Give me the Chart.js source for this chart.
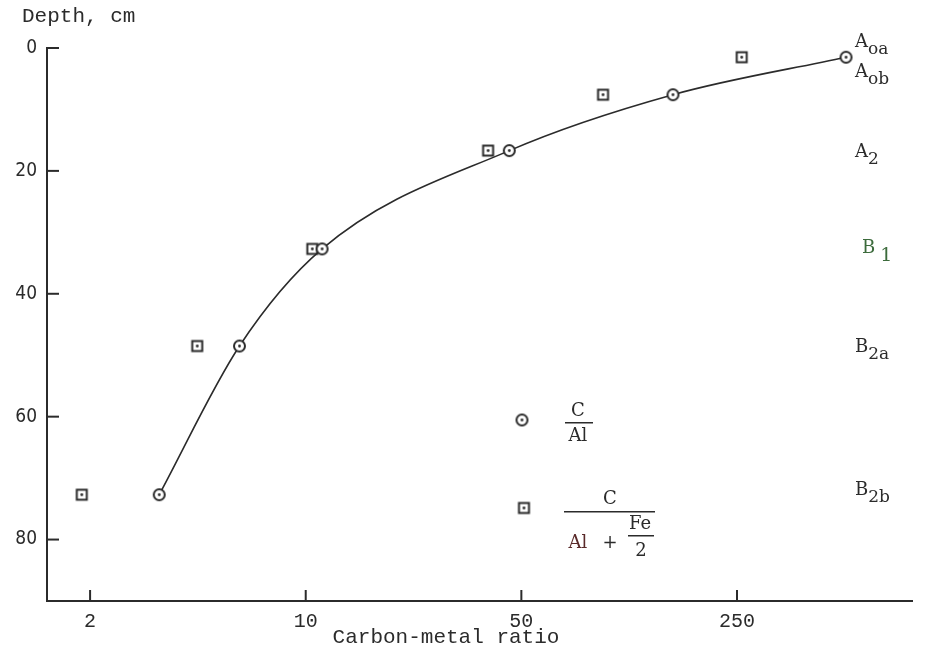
<!DOCTYPE html>
<html>
<head>
<meta charset="utf-8">
<script src="https://cdn.jsdelivr.net/npm/chart.js@4"></script>
<style>
    html, body { margin: 0; padding: 0; background: #fff; }
</style>
</head>
<body>
<canvas id="razaoChart" width="925" height="655"></canvas>
<script>
// Soil horizons, top to bottom, and their depth (cm)
const horizons = ['oa', 'ob', '2', '1', '2a', '2b'];
const horizonLetters = ['A', 'A', 'A', 'B', 'B', 'B'];
const depth = [1.5, 7.6, 16.7, 32.7, 48.5, 72.7];

// Carbon-metal ratios
const ratioCAl = [564, 155, 45.7, 11.3, 6.1, 3.35];     // C / Al (circles)
const ratioCAlFe = [259, 92, 39, 10.5, 4.45, 1.88];     // C / (Al + Fe/2) (squares)

const xTicks = [2, 10, 50, 250];
const yTicks = [0, 20, 40, 60, 80];

const ink = '#2b2b2b';

// little marker images: circle / square with a dot in the middle
function makeMarker(shape) {
    const c = document.createElement('canvas');
    c.width = 15;
    c.height = 15;
    const g = c.getContext('2d');
    g.lineWidth = 2;
    g.strokeStyle = ink;
    g.fillStyle = '#fff';
    g.beginPath();
    if (shape === 'circle') {
        g.arc(7.5, 7.5, 5.5, 0, Math.PI * 2);
    } else {
        g.rect(2.5, 2.5, 10, 10);
    }
    g.fill();
    g.stroke();
    g.fillStyle = ink;
    g.beginPath();
    g.arc(7.5, 7.5, 1.4, 0, Math.PI * 2);
    g.fill();
    return c;
}
const circleMarker = makeMarker('circle');
const squareMarker = makeMarker('square');

const serif = "'DejaVu Serif', serif";

// draws inward ticks, axis captions, horizon names and the fraction legend
const extras = {
    id: 'extras',
    afterDraw(chart) {
        const { ctx, scales: { x, y }, chartArea: a } = chart;
        ctx.save();
        ctx.strokeStyle = ink;
        ctx.lineWidth = 2;
        yTicks.forEach(v => {
            const py = y.getPixelForValue(v);
            ctx.beginPath();
            ctx.moveTo(a.left, py);
            ctx.lineTo(a.left + 12, py);
            ctx.stroke();
        });
        xTicks.forEach(v => {
            const px = x.getPixelForValue(v);
            ctx.beginPath();
            ctx.moveTo(px, a.bottom);
            ctx.lineTo(px, a.bottom - 11);
            ctx.stroke();
        });

        // axis captions
        ctx.fillStyle = ink;
        ctx.font = "21px 'Liberation Mono', monospace";
        ctx.textBaseline = 'middle';
        ctx.textAlign = 'left';
        ctx.fillText('Depth, cm', 22, 16);
        ctx.textAlign = 'center';
        ctx.fillText('Carbon-metal ratio', 446, 637);

        // horizon names on the right
        const labelY = [42, 72, 152, 248, 347, 490];
        ctx.textAlign = 'left';
        horizons.forEach((sub, i) => {
            const isB1 = sub === '1';
            ctx.fillStyle = isB1 ? '#3c6b3c' : ink;
            const lx = isB1 ? 862 : 855;
            ctx.font = '18px ' + serif;
            ctx.fillText(horizonLetters[i], lx, labelY[i]);
            const w = ctx.measureText(horizonLetters[i]).width;
            ctx.font = (isB1 ? '19px ' : '17px ') + serif;
            ctx.fillText(sub, lx + w + (isB1 ? 5 : 0), labelY[i] + 8);
        });

        // legend: markers + fractions
        ctx.drawImage(circleMarker, 522 - 7.5, 420 - 7.5);
        ctx.drawImage(squareMarker, 524 - 7.5, 508 - 7.5);
        ctx.fillStyle = ink;
        ctx.textAlign = 'center';
        ctx.font = '18px ' + serif;
        ctx.fillText('C', 578, 411);
        ctx.fillText('Al', 578, 436);
        ctx.fillRect(565, 422, 28, 1.5);

        ctx.fillText('C', 610, 499);
        ctx.fillRect(564, 511, 91, 1.5);
        ctx.fillStyle = '#5a2a2a';
        ctx.fillText('Al', 578, 543);
        ctx.fillStyle = ink;
        ctx.fillText('+', 610, 543);
        ctx.fillText('Fe', 640, 524);
        ctx.fillRect(628, 535, 26, 1.5);
        ctx.fillText('2', 641, 551);
        ctx.restore();
    }
};

const toPoints = (xs) => xs.map((v, i) => ({ x: v, y: depth[i] })).sort((p, q) => p.x - q.x);

const ctx1 = document.getElementById('razaoChart').getContext('2d');
new Chart(ctx1, {
    type: 'scatter',
    data: {
        datasets: [{
            label: 'C / Al',
            data: toPoints(ratioCAl),
            showLine: true,
            cubicInterpolationMode: 'monotone',
            borderColor: ink,
            borderWidth: 1.6,
            pointStyle: circleMarker,
            clip: false
        }, {
            label: 'C / (Al + Fe/2)',
            data: toPoints(ratioCAlFe),
            showLine: false,
            pointStyle: squareMarker,
            clip: false
        }]
    },
    options: {
        responsive: false,
        animation: false,
        devicePixelRatio: 1,
        layout: { padding: { top: 48, right: 13, left: 0, bottom: 0 } },
        plugins: {
            legend: { display: false },
            tooltip: { enabled: false }
        },
        scales: {
            x: {
                type: 'logarithmic',
                min: 1.45,
                max: 923,
                afterBuildTicks: s => { s.ticks = xTicks.map(v => ({ value: v })); },
                afterFit: s => { s.height = 54; },
                grid: { display: false },
                border: { color: ink, width: 2 },
                ticks: {
                    callback: v => String(v),
                    color: ink,
                    padding: 1,
                    maxRotation: 0,
                    font: { family: "'Liberation Mono', monospace", size: 20 }
                }
            },
            y: {
                reverse: true,
                min: 0,
                max: 90,
                afterBuildTicks: s => { s.ticks = yTicks.map(v => ({ value: v })); },
                afterFit: s => { s.width = 47; },
                grid: { display: false },
                border: { color: ink, width: 2 },
                ticks: {
                    color: ink,
                    padding: 2,
                    font: { family: "'Liberation Sans Narrow', 'DejaVu Sans Condensed', sans-serif", size: 19 }
                }
            }
        }
    },
    plugins: [extras]
});
</script>
</body>
</html>
